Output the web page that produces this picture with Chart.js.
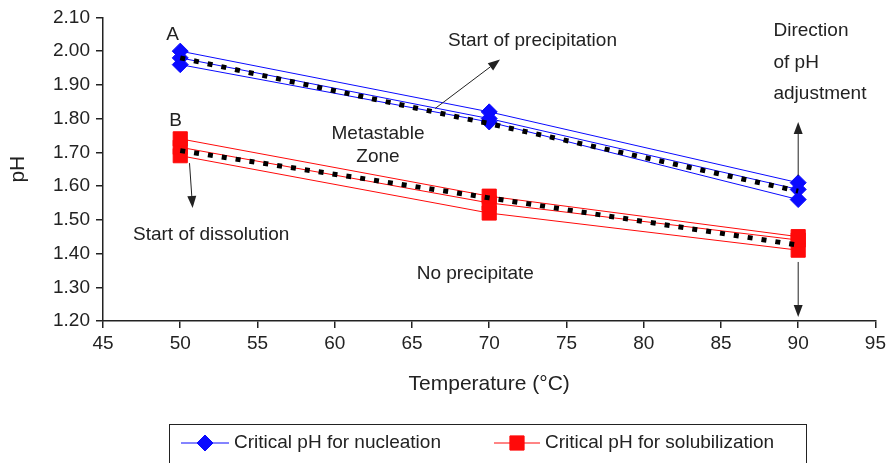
<!DOCTYPE html>
<html>
<head>
<meta charset="utf-8">
<script src="https://cdn.jsdelivr.net/npm/chart.js@4.4.0/dist/chart.umd.min.js"></script>
<style>
  body { margin: 0; background: #fff; }
  canvas { display: block; }
</style>
</head>
<body>
<canvas id="phChart" width="890" height="463"></canvas>
<script>
// temperatures (°C) where the critical pH was measured
const temperatures = [50, 70, 90];

// nucleation runs (blue diamonds) and their mean line
const nucleationHigh = [2.00, 1.82, 1.61];
const nucleationMid = [1.98, 1.80, 1.59];
const nucleationLow = [1.96, 1.79, 1.56];
const nucleationMean = [1.98, 1.785, 1.585];

// solubilization runs (red squares) and their mean line
const solubilizationHigh = [1.74, 1.57, 1.45];
const solubilizationMid = [1.715, 1.55, 1.44];
const solubilizationLow = [1.69, 1.52, 1.41];
const solubilizationMean = [1.705, 1.565, 1.425];

const xTickValues = [45, 50, 55, 60, 65, 70, 75, 80, 85, 90, 95];
const yTickValues = [1.2, 1.3, 1.4, 1.5, 1.6, 1.7, 1.8, 1.9, 2.0, 2.1];

const FONT = '"Liberation Sans", Arial, sans-serif';
const INK = '#222';
const BLUE = '#0a0aff';
const RED = '#ff0a0a';

function toPoints(values) {
  return temperatures.map((t, i) => ({ x: t, y: values[i] }));
}

// text labels and arrows, placed in data units (temperature, pH)
const notes = [
  { text: 'A', x: 49.5, y: 2.05 },
  { text: 'B', x: 49.7, y: 1.795 },
  { text: 'Start of precipitation', x: 72.8, y: 2.03 },
  { text: 'Metastable', x: 62.8, y: 1.755 },
  { text: 'Zone', x: 62.8, y: 1.688 },
  { text: 'Start of dissolution', x: 52.0, y: 1.455 },
  { text: 'No precipitate', x: 69.1, y: 1.34 },
  { text: 'Direction', x: 88.4, y: 2.06, align: 'left' },
  { text: 'of pH', x: 88.4, y: 1.965, align: 'left' },
  { text: 'adjustment', x: 88.4, y: 1.875, align: 'left' }
];
const arrows = [
  { from: [66.5, 1.83], to: [70.7, 1.975] },
  { from: [50.6, 1.668], to: [50.8, 1.535] },
  { from: [90, 1.63], to: [90, 1.79] },
  { from: [90, 1.375], to: [90, 1.212] }
];

const legendItems = [
  { label: 'Critical pH for nucleation', color: BLUE, pointStyle: 'rectRot', radius: 8, x: 181, lineEnd: 229, textX: 234 },
  { label: 'Critical pH for solubilization', color: RED, pointStyle: 'rect', radius: 10, x: 494, lineEnd: 540, textX: 545 }
];

function drawArrow(ctx, x1, y1, x2, y2) {
  const ang = Math.atan2(y2 - y1, x2 - x1);
  const len = 12, half = 4.5;
  ctx.beginPath();
  ctx.moveTo(x1, y1);
  ctx.lineTo(x2 - Math.cos(ang) * len, y2 - Math.sin(ang) * len);
  ctx.stroke();
  ctx.beginPath();
  ctx.moveTo(x2, y2);
  ctx.lineTo(x2 - Math.cos(ang) * len - Math.sin(ang) * half, y2 - Math.sin(ang) * len + Math.cos(ang) * half);
  ctx.lineTo(x2 - Math.cos(ang) * len + Math.sin(ang) * half, y2 - Math.sin(ang) * len - Math.cos(ang) * half);
  ctx.closePath();
  ctx.fill();
}

const notesPlugin = {
  id: 'notes',
  afterDraw(chart) {
    const { ctx, scales: { x, y } } = chart;
    ctx.save();
    ctx.fillStyle = INK;
    ctx.strokeStyle = INK;
    ctx.lineWidth = 1;
    ctx.font = '19px ' + FONT;
    ctx.textBaseline = 'middle';
    for (const n of notes) {
      ctx.textAlign = n.align || 'center';
      ctx.fillText(n.text, x.getPixelForValue(n.x), y.getPixelForValue(n.y));
    }
    for (const a of arrows) {
      drawArrow(ctx,
        x.getPixelForValue(a.from[0]), y.getPixelForValue(a.from[1]),
        x.getPixelForValue(a.to[0]), y.getPixelForValue(a.to[1]));
    }
    ctx.restore();
  }
};

const legendPlugin = {
  id: 'boxLegend',
  afterDraw(chart) {
    const ctx = chart.ctx;
    const top = 424, midY = 443;
    ctx.save();
    ctx.strokeStyle = INK;
    ctx.lineWidth = 1;
    ctx.strokeRect(169.5, top + 0.5, 637, 60);
    for (const item of legendItems) {
      ctx.strokeStyle = item.color;
      ctx.beginPath();
      ctx.moveTo(item.x, midY);
      ctx.lineTo(item.lineEnd, midY);
      ctx.stroke();
      ctx.fillStyle = item.color;
      Chart.helpers.drawPoint(ctx, {
        pointStyle: item.pointStyle, rotation: 0, radius: item.radius, borderWidth: 1
      }, (item.x + item.lineEnd) / 2, midY);
      ctx.fill();
      ctx.fillStyle = INK;
      ctx.font = '19px ' + FONT;
      ctx.textAlign = 'left';
      ctx.textBaseline = 'middle';
      ctx.fillText(item.label, item.textX, midY);
    }
    ctx.restore();
  }
};

function runSet(label, values, color, style, radius) {
  return {
    label: label,
    data: toPoints(values),
    borderColor: color,
    backgroundColor: color,
    borderWidth: 1,
    pointStyle: style,
    pointRadius: radius,
    pointHoverRadius: radius,
    pointBorderWidth: 1,
    tension: 0
  };
}

function meanSet(label, values) {
  return {
    label: label,
    data: toPoints(values),
    borderColor: '#000',
    borderWidth: 5,
    borderDash: [5, 9],
    borderCapStyle: 'butt',
    pointRadius: 0,
    tension: 0
  };
}

const tickFont = { family: FONT, size: 19 };

new Chart(document.getElementById('phChart'), {
  type: 'line',
  data: {
    datasets: [
      meanSet('Nucleation mean', nucleationMean),
      meanSet('Solubilization mean', solubilizationMean),
      runSet('Critical pH for nucleation', nucleationHigh, BLUE, 'rectRot', 8),
      runSet('Critical pH for nucleation (2)', nucleationMid, BLUE, 'rectRot', 8),
      runSet('Critical pH for nucleation (3)', nucleationLow, BLUE, 'rectRot', 8),
      runSet('Critical pH for solubilization', solubilizationHigh, RED, 'rect', 10),
      runSet('Critical pH for solubilization (2)', solubilizationMid, RED, 'rect', 10),
      runSet('Critical pH for solubilization (3)', solubilizationLow, RED, 'rect', 10)
    ]
  },
  options: {
    responsive: false,
    animation: false,
    layout: { padding: { top: 16, right: 10, left: 0, bottom: 0 } },
    plugins: {
      legend: { display: false },
      tooltip: { enabled: false }
    },
    scales: {
      x: {
        type: 'linear',
        min: 45,
        max: 95,
        afterBuildTicks: s => { s.ticks = xTickValues.map(v => ({ value: v })); },
        afterFit: s => { s.height = 142; },
        grid: { drawOnChartArea: false, tickLength: 7, color: INK, lineWidth: 1.5 },
        border: { color: INK, width: 1.5 },
        ticks: { color: INK, font: tickFont, padding: 4, maxRotation: 0, autoSkip: false },
        title: {
          display: true,
          text: 'Temperature (°C)',
          color: INK,
          font: { family: FONT, size: 21 },
          padding: { top: 0, bottom: 66 }
        }
      },
      y: {
        min: 1.2,
        max: 2.1,
        afterBuildTicks: s => { s.ticks = yTickValues.map(v => ({ value: v })); },
        afterFit: s => { s.width = 103; },
        grid: { drawOnChartArea: false, tickLength: 7, color: INK, lineWidth: 1.5 },
        border: { color: INK, width: 1.5 },
        ticks: { color: INK, font: tickFont, padding: 6, callback: v => v.toFixed(2) },
        title: {
          display: true,
          text: 'pH',
          color: INK,
          font: { family: FONT, size: 21 },
          padding: { top: 6, bottom: 0 }
        }
      }
    }
  },
  plugins: [notesPlugin, legendPlugin]
});
</script>
</body>
</html>
